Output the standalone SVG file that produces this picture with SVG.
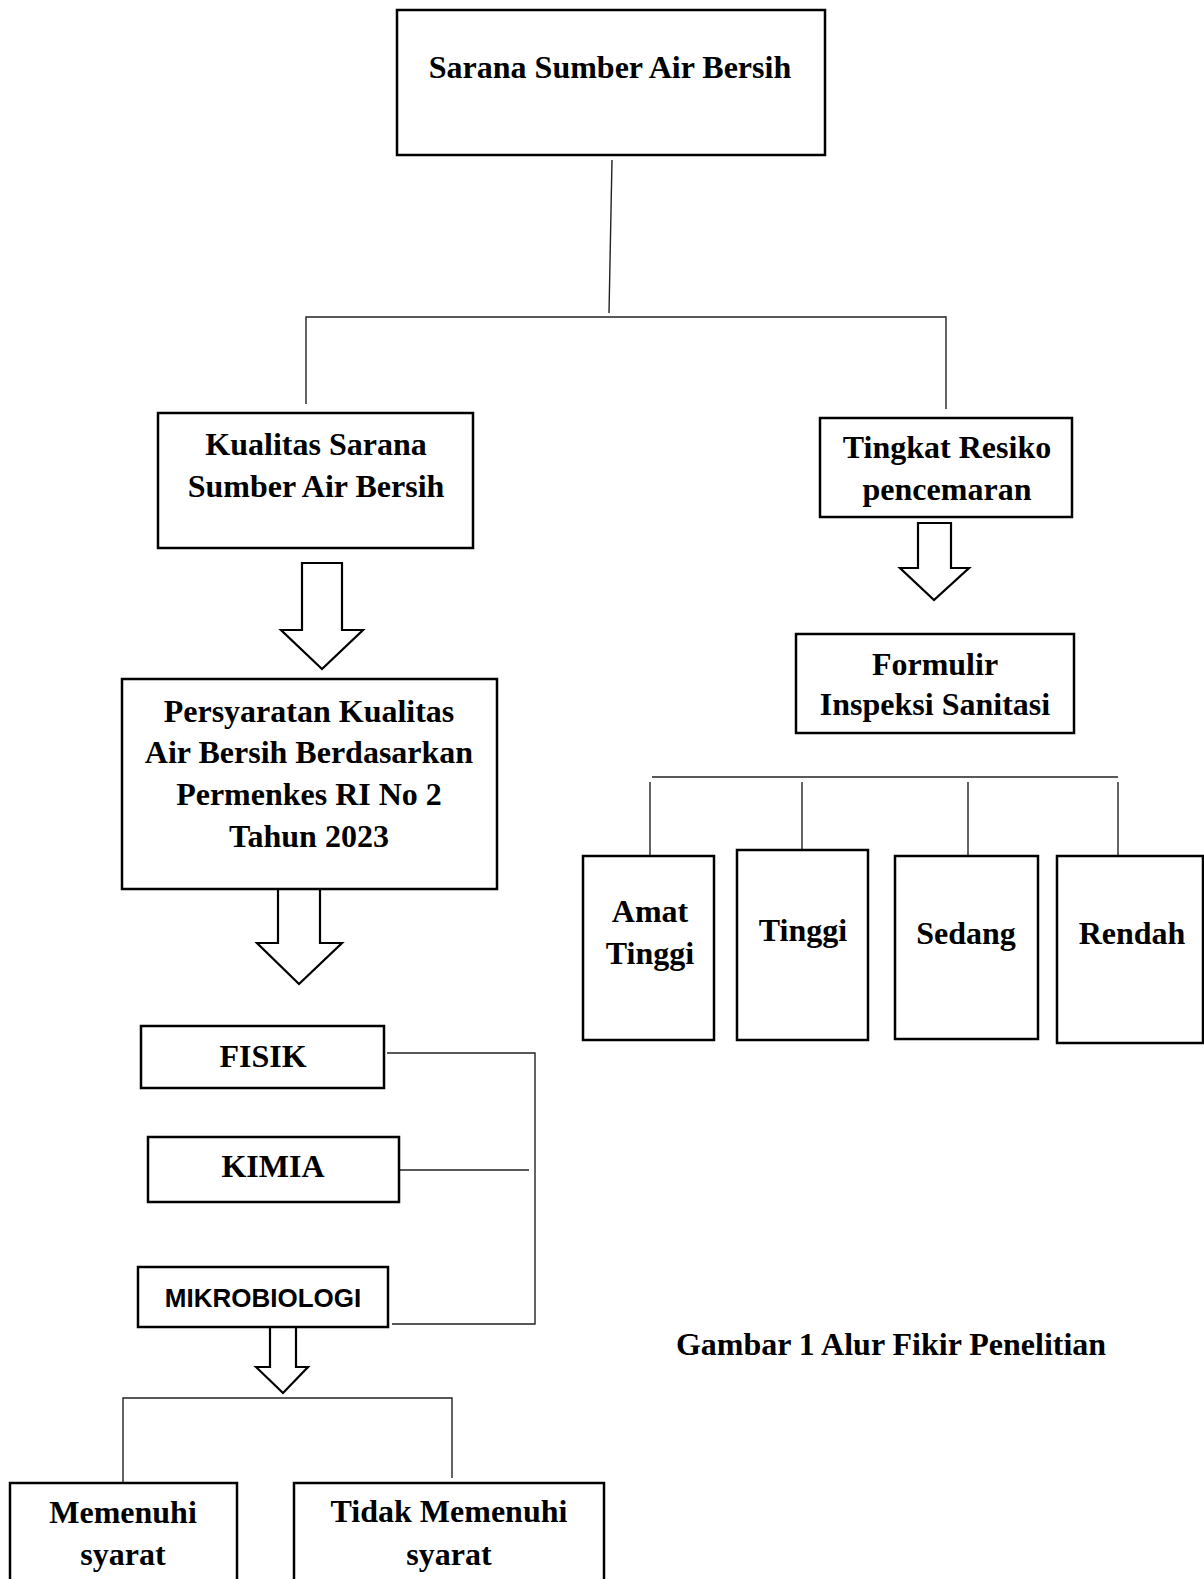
<svg xmlns="http://www.w3.org/2000/svg" width="1204" height="1579" viewBox="0 0 1204 1579">
<style>
.box{fill:#fff;stroke:#000;stroke-width:2.5}
.arr{fill:#fff;stroke:#000;stroke-width:2.2;stroke-linejoin:miter}
.t{font-family:"Liberation Serif","Times New Roman",serif;font-weight:bold;font-size:32px;fill:#000;text-anchor:middle}
.s{font-family:"Liberation Sans",Arial,sans-serif;font-weight:bold;font-size:26px;fill:#000;text-anchor:middle}
.c{fill:none;stroke:#222;stroke-width:1.4}
</style>
<rect width="1204" height="1579" fill="#fff"/>
<g id="connectors">
<line class="c" x1="612" y1="160" x2="609" y2="313"/>
<polyline class="c" points="306,404 306,317 946,317 946,409"/>
<line class="c" x1="652" y1="777" x2="1118" y2="777"/>
<line class="c" x1="650" y1="782" x2="650" y2="856"/>
<line class="c" x1="802" y1="782" x2="802" y2="850"/>
<line class="c" x1="968" y1="782" x2="968" y2="856"/>
<line class="c" x1="1118" y1="782" x2="1118" y2="856"/>
<polyline class="c" points="387,1053 535,1053 535,1324 392,1324"/>
<line class="c" x1="399" y1="1170" x2="529" y2="1170"/>
<polyline class="c" points="123,1483 123,1398 452,1398 452,1478"/>
<polygon class="arr" points="302,563 342,563 342,630 363,630 322,669 281,630 302,630"/>
<polygon class="arr" points="278,889 320,889 320,943 342,943 299,984 257,943 278,943"/>
<polygon class="arr" points="918,523 951,523 951,568 969,568 934,600 900,568 918,568"/>
<polygon class="arr" points="270,1327 296,1327 296,1367 308,1367 283,1393 256,1367 270,1367"/>
</g>
<g id="sarana">
<rect class="box" x="397" y="10" width="428" height="145"/>
<text class="t" x="610" y="78">Sarana Sumber Air Bersih</text>
</g>
<g id="kualitas">
<rect class="box" x="158" y="413" width="315" height="135"/>
<text class="t" x="316" y="455">Kualitas Sarana</text>
<text class="t" x="316" y="497">Sumber Air Bersih</text>
</g>
<g id="tingkat">
<rect class="box" x="820" y="418" width="252" height="99"/>
<text class="t" x="947" y="458">Tingkat Resiko</text>
<text class="t" x="947" y="500">pencemaran</text>
</g>
<g id="persyaratan">
<rect class="box" x="122" y="679" width="375" height="210"/>
<text class="t" x="309" y="722">Persyaratan Kualitas</text>
<text class="t" x="309" y="763">Air Bersih Berdasarkan</text>
<text class="t" x="309" y="805">Permenkes RI No 2</text>
<text class="t" x="309" y="847">Tahun 2023</text>
</g>
<g id="formulir">
<rect class="box" x="796" y="634" width="278" height="99"/>
<text class="t" x="935" y="675">Formulir</text>
<text class="t" x="935" y="715">Inspeksi Sanitasi</text>
</g>
<g id="amat-tinggi">
<rect class="box" x="583" y="856" width="131" height="184"/>
<text class="t" x="650" y="922">Amat</text>
<text class="t" x="650" y="964">Tinggi</text>
</g>
<g id="tinggi">
<rect class="box" x="737" y="850" width="131" height="190"/>
<text class="t" x="803" y="941">Tinggi</text>
</g>
<g id="sedang">
<rect class="box" x="895" y="856" width="143" height="183"/>
<text class="t" x="966" y="944">Sedang</text>
</g>
<g id="rendah">
<rect class="box" x="1057" y="856" width="146" height="187"/>
<text class="t" x="1132" y="944">Rendah</text>
</g>
<g id="fisik">
<rect class="box" x="141" y="1026" width="243" height="62"/>
<text class="t" x="263" y="1067">FISIK</text>
</g>
<g id="kimia">
<rect class="box" x="148" y="1137" width="251" height="65"/>
<text class="t" x="273" y="1177">KIMIA</text>
</g>
<g id="mikrobiologi">
<rect class="box" x="138" y="1267" width="250" height="60"/>
<text class="s" x="263" y="1307">MIKROBIOLOGI</text>
</g>
<g id="memenuhi">
<rect class="box" x="10" y="1483" width="227" height="110"/>
<text class="t" x="123" y="1523">Memenuhi</text>
<text class="t" x="123" y="1565">syarat</text>
</g>
<g id="tidak-memenuhi">
<rect class="box" x="294" y="1483" width="310" height="110"/>
<text class="t" x="449" y="1522">Tidak Memenuhi</text>
<text class="t" x="449" y="1565">syarat</text>
</g>
<g id="caption">
<text class="t" x="891" y="1355">Gambar 1 Alur Fikir Penelitian</text>
</g>
</svg>
